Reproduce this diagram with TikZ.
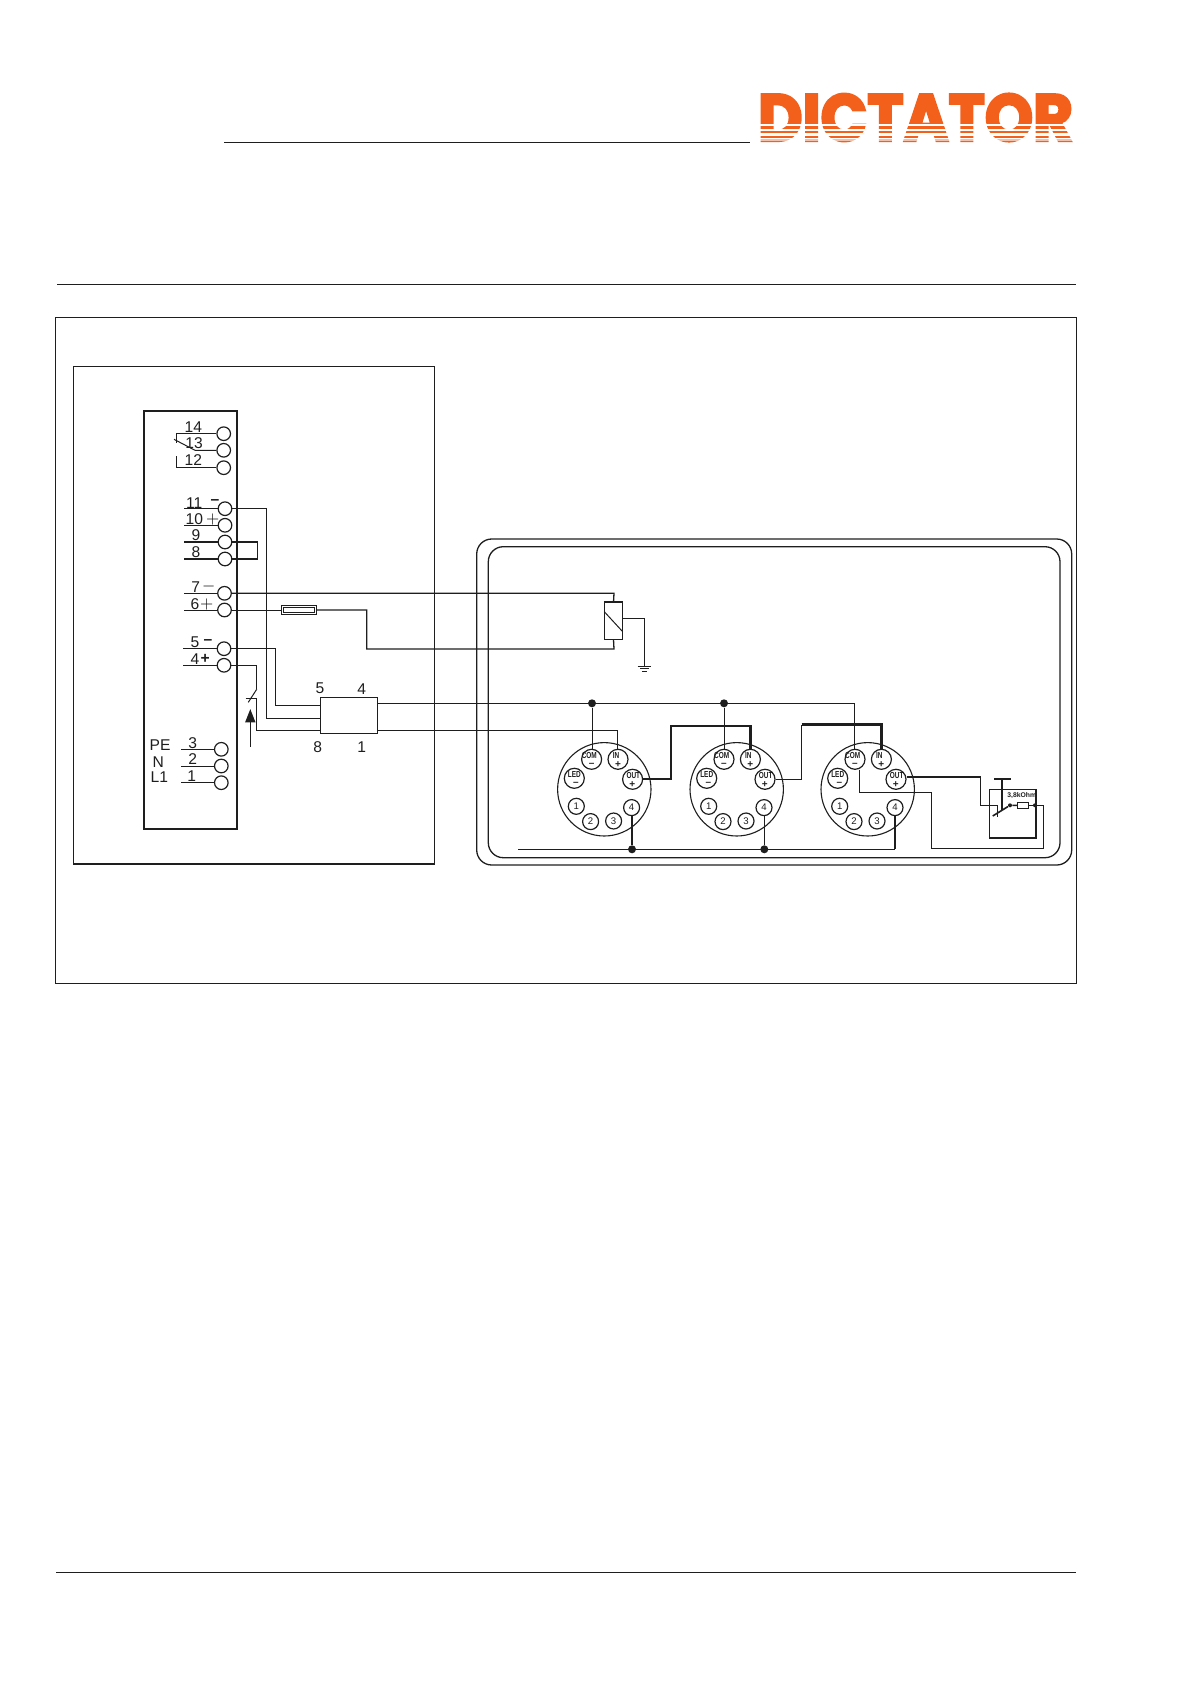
\documentclass[tikz,border=0pt]{standalone}
\usepackage{fontspec}
\usepackage{graphicx}
\setmainfont{Liberation Sans}
\newfontfamily\logofont[BoldFeatures={FakeBold=4}]{Poppins}
\definecolor{logoorange}{HTML}{F2601C}
\definecolor{wireblack}{HTML}{1E1E1E}
\usetikzlibrary{calc,arrows.meta}
\newcommand{\senslabel}[1]{\scalebox{0.92}[1.25]{#1}}

\begin{document}
\begin{tikzpicture}[x=0.5pt,y=-0.5pt,
    wire/.style={draw=wireblack,line width=0.5pt},
    heavy/.style={draw=wireblack,line width=1.1pt},
    pagerule/.style={draw=wireblack,line width=0.6pt},
    term/.style={circle,draw=wireblack,line width=0.6pt,inner sep=0pt,minimum size=6.8pt},
    smallterm/.style={circle,draw=wireblack,line width=0.6pt,inner sep=0pt,minimum size=8pt},
    sensterm/.style={circle,draw=wireblack,line width=0.6pt,inner sep=0pt,minimum size=10pt},
    junction/.style={circle,fill=wireblack,inner sep=0pt,minimum size=4pt},
    num/.style={font=\fontsize{7.8}{9}\selectfont,inner sep=0pt,text=wireblack},
    boldsign/.style={font=\fontsize{7.8}{9}\selectfont\bfseries,inner sep=0pt,text=wireblack},
    senstext/.style={font=\fontsize{3.5}{3.9}\selectfont\bfseries,inner sep=0pt,text=wireblack},
    senssign/.style={font=\fontsize{5}{5}\selectfont\bfseries,inner sep=0pt,text=wireblack},
    sensnum/.style={font=\fontsize{4.8}{5}\selectfont,inner sep=0pt,text=wireblack}
]
\useasboundingbox (0,0) rectangle (1192,1685);

% === Page rules ===
\coordinate (headleft) at (224,142.5);
\coordinate (headright) at (750,142.5);
\draw[pagerule] (headleft) -- (headright);
\coordinate (ruleleft) at (57,284.5);
\coordinate (ruleright) at (1076,284.5);
\draw[pagerule] (ruleleft) -- (ruleright);
\coordinate (footleft) at (56,1572.5);
\coordinate (footright) at (1076,1572.5);
\draw[pagerule] (footleft) -- (footright);

% === Logo ===
\node[inner sep=0pt,text=logoorange] (logo) at (915.5,117.5) {\resizebox{157.5pt}{23.5pt}{\logofont\bfseries DICTATOR}};
\foreach \y/\w in {125.1/0.8,130.3/1,134.5/1.2,138.5/0.8} {
    \draw[white,line width=\w pt] (755,\y) -- (1076,\y);
}
\draw[white,opacity=0.6,line width=1pt] (755,140.2) -- (1076,140.2);

% === Frames ===
\draw[pagerule] (55.5,317.5) rectangle (1076.5,983.5);
\draw[wire,line width=0.65pt] (73.7,366.3) rectangle (434.3,864);
\draw[heavy] (143.7,411) rectangle (237,829);
\draw[wire,rounded corners=7.5pt,line width=0.65pt] (476.7,539) rectangle (1071.7,865);
\draw[wire,rounded corners=7.5pt,line width=0.65pt] (488.3,546.7) rectangle (1060,857.7);

% === Terminals ===
\foreach \n/\x/\y in {14/223.7/433.7,13/223.7/450.3,12/223.7/467.7,
    11/225/508.7,10/225/525.3,9/225/542,8/225/559,7/224.5/593.3,6/224.5/610,
    5/224/648.7,4/224/665.3,3/221.3/749.3,2/221.3/766,1/221.3/782.7} {
    \node[term] (t\n) at (\x,\y) {};
}

% Terminal labels
\foreach \n/\x/\y in {14/193.3/426.7,13/194/443.3,12/193.3/460,11/194.3/502.7,10/194.3/519.3,
    9/196/535.3,8/196/552,7/195.7/586.7,6/195/604,5/195/642.7,4/195/659,
    3/192.7/743.3,2/192.7/759.3,1/191.7/775.7} {
    \node[num] (l\n) at (\x,\y) {\n};
}
\node[num] (lpe) at (160,745) {PE};
\node[num] (ln) at (158.3,761.7) {N};
\node[num] (llone) at (159.3,777.3) {L1};
\foreach \s/\t/\x/\y in {p10/$+$/212.7/519.3,m7/$-$/208.7/586,p6/$+$/206.7/604} {
    \node[num] (\s) at (\x,\y) {\t};
}
\foreach \s/\t/\x/\y in {m11/--/215/501.7,m5/--/208/642,p4/+/205.3/659} {
    \node[boldsign] (\s) at (\x,\y) {\t};
}

% Terminal lead lines
\foreach \n/\x in {11/184.3,10/184.3,7/184.3,6/184.3,5/183.3,4/183.3,3/180.7,2/180.7,1/180.7} {
    \draw[wire] (t\n.west) -- (\x,0 |- t\n.west);
}
\foreach \n in {9,8} {
    \draw[wire,line width=0.9pt] (t\n.west) -- (184.3,0 |- t\n.west);
}

% Changeover contact
\coordinate (relc) at (176.3,443);
\draw[wire] (t14.west) -| (relc);
\draw[wire] (t13.west) -- (195,450.3) -- (174,439.3);
\coordinate (relb) at (176.3,456);
\draw[wire] (t12.west) -| (relb);

% Jumper 9-8
\coordinate (jump) at (257.7,550);
\draw[wire,line width=0.6pt] (t9.east) -| (jump) |- (t8.east);

% === Fuse ===
\node[draw=wireblack,line width=0.5pt,minimum width=17.5pt,minimum height=4.8pt,inner sep=0pt] (fuse) at (299.2,610) {};
\node[draw=wireblack,line width=0.4pt,minimum width=15.5pt,minimum height=2.8pt,inner sep=0pt] (fusein) at (fuse) {};

% === Varistor ===
\node[draw=wireblack,line width=0.5pt,minimum width=9.2pt,minimum height=18.3pt,inner sep=0pt] (vdr) at (613.5,621) {};
\draw[wire,line width=0.9pt] (vdr.north west) -- (vdr.north east);
\draw[wire] (604.3,611.7) -- (622.7,631.7);
\coordinate (gnd) at (644.3,666);
\coordinate (vdrtop) at (614,593.3);
\coordinate (vdrbot) at (614,649);
\coordinate (fusebend) at (366.7,649);
\draw[wire,line width=0.65pt] (t7.east) -- (vdrtop) -- (vdr.north);
\draw[wire,line width=0.65pt] (vdr.south) -- (vdrbot) -- (fusebend) -- (fusebend |- fuse) -- (fuse.east);
\draw[wire] (fuse.west) -- (t6.east);
\draw[wire] (vdr.east |- 0,618.3) -| (gnd);
\foreach \y/\r in {666/6.8,668.7/4.2,671.3/2.5} {
    \draw[wire] ($(gnd |- 0,\y)+(-\r,0)$) -- ($(gnd |- 0,\y)+(\r,0)$);
}

% === Smoke detector bases ===
\foreach \s/\x in {a/604.3,b/736.7,c/867.7} {
    \begin{scope}[shift={(\x,789.3)}]
        \node[circle,draw=wireblack,line width=0.55pt,inner sep=0pt,minimum size=46.7pt] (base\s) at (0,0) {};
        \node[sensterm] (com\s) at (-12.7,-30) {};
        \node[sensterm] (in\s) at (13.7,-30) {};
        \node[sensterm] (out\s) at (28.3,-10) {};
        \node[sensterm] (led\s) at (-30,-11) {};
        \node[senstext] (coml\s) at (-15,-33.6) {\senslabel{COM}};
        \node[senssign] (cominus\s) at (-12.7,-24.3) {--};
        \node[senstext] (inl\s) at (11.7,-34.2) {\senslabel{IN}};
        \node[senssign] (inplus\s) at (13.7,-25) {+};
        \node[senstext] (outl\s) at (29,-14) {\senslabel{OUT}};
        \node[senssign] (outplus\s) at (28,-5) {+};
        \node[senstext] (ledl\s) at (-30,-14.6) {\senslabel{LED}};
        \node[senssign] (ledminus\s) at (-28.3,-5) {--};
        \foreach \n/\a/\b in {1/-28/17,2/-13.7/32.3,3/9.3/31.7,4/27.3/18.3} {
            \node[smallterm,sensnum] (pin\n\s) at (\a,\b) {\n};
        }
    \end{scope}
}

% === Relay box ===
\node[draw=wireblack,line width=0.5pt,minimum width=28.5pt,minimum height=18pt,inner sep=0pt] (relay) at (348.8,715.3) {};
\node[num] (lfive) at (320,688.7) {5};
\node[num] (lfour) at (361.7,688.7) {4};
\node[num] (leight) at (317.7,747) {8};
\node[num] (lone) at (361.7,747) {1};

% Wires to relay
\coordinate (wfive) at (275.7,705.3);
\coordinate (weleven) at (266.7,718.7);
\coordinate (wfour) at (256.7,730.3);
\draw[wire] (t5.east) -| (wfive) -- (relay.west |- wfive);
\draw[wire] (t11.east) -| (weleven) -- (relay.west |- weleven);
\coordinate (swtop) at (256.7,689.3);
\coordinate (swfix) at (256.7,698.3);
\draw[wire] (t4.east) -| (swtop);
\draw[wire] (swtop) -- (248.3,702.3);
\draw[wire] (245.7,698.3) -- (swfix) -- (wfour) -- (relay.west |- wfour);

% Actuating arrow
\coordinate (arrowtail) at (250.3,746.7);
\coordinate (arrowhead) at (250.3,709);
\draw[wire,line width=0.8pt,-{Triangle[length=6.7pt,width=5pt]}] (arrowtail) -- (arrowhead);

% === Busses ===
\coordinate (bustop) at (854.3,703.3);
\node[junction] (dota) at (592,703.3) {};
\node[junction] (dotb) at (724,703.3) {};
\draw[wire] (relay.east |- bustop) -- (bustop) -- (comc.north -| bustop);
\draw[wire] (dota) -- (coma.north -| dota);
\draw[wire] (dotb) -- (comb.north -| dotb);

\coordinate (inwire) at (617.7,730.7);
\draw[wire] (relay.east |- inwire) -- (inwire) -- (ina.north -| inwire);

\coordinate (uplinka) at (671,726);
\draw[heavy] (outa.east) -| (uplinka) -| (inb.north);
\coordinate (uplinkb) at (801.7,724.5);
\draw[wire] (outb.east) -| (uplinkb);
\draw[heavy] (uplinkb) -| (inc.north);

% Lower bus
\coordinate (busleft) at (518.3,849.3);
\coordinate (busright) at (895.3,849.3);
\node[junction] (dotc) at (632,849.3) {};
\node[junction] (dotd) at (764.3,849.3) {};
\draw[wire] (busleft) -- (busright);
\draw[heavy] (busright) -- (pin4c.south -| busright);
\draw[heavy] (dotc) -- (pin4a.south -| dotc);
\draw[wire] (dotd) -- (pin4b.south -| dotd);

% === Button with end resistor ===
\draw[wire,line width=0.6pt] (989.3,789.3) -- (1036.3,789.3);
\draw[wire,line width=0.6pt] (989.3,789.3) -- (989.3,837.7);
\draw[heavy] (989.3,837.7) -- (1036.3,837.7) -- (1036.3,789.3);

\node[draw=wireblack,line width=0.5pt,minimum width=5.4pt,minimum height=3pt,inner sep=0pt] (endres) at (1022.7,805.3) {};
\node[font=\fontsize{3.4}{4}\selectfont\bfseries,inner sep=0pt,text=wireblack] (lres) at (1021.7,796) {3,8kOhm};
\node[circle,fill=wireblack,inner sep=0pt,minimum size=2pt] (swdot) at (1010,805.3) {};
\node[circle,fill=wireblack,inner sep=0pt,minimum size=2pt] (resdot) at (1035,805.3) {};
\coordinate (swleft) at (997.7,805.3);
\coordinate (outdrop) at (980.7,805.3);
\coordinate (outwire) at (980.7,776.7);
\draw[heavy,line width=0.9pt] (outc.east |- outwire) -- (outwire);
\draw[wire] (outwire) -- (outdrop) -- (swleft) -- (997.7,816.7);
\draw[wire,line width=0.8pt] (992.7,816) -- (swdot) -- (endres.west);
\draw[wire] (endres.east) -- (resdot);
\draw[heavy] (994,779.3) -- (1011.3,779.3);
\draw[wire,line width=0.9pt] (1002.3,779.3) -- (1002.3,810);

% COM return
\coordinate (retone) at (859.3,792.3);
\coordinate (rettwo) at (931.7,792.3);
\coordinate (retthree) at (931.7,848.3);
\coordinate (retfour) at (1043.3,848.3);
\coordinate (retfive) at (1043.3,805.3);
\draw[wire,line width=0.65pt] (comc.south -| retone) -- (retone) -- (rettwo) -- (retthree) -- (retfour) -- (retfive) -- (resdot);

\end{tikzpicture}
\end{document}
